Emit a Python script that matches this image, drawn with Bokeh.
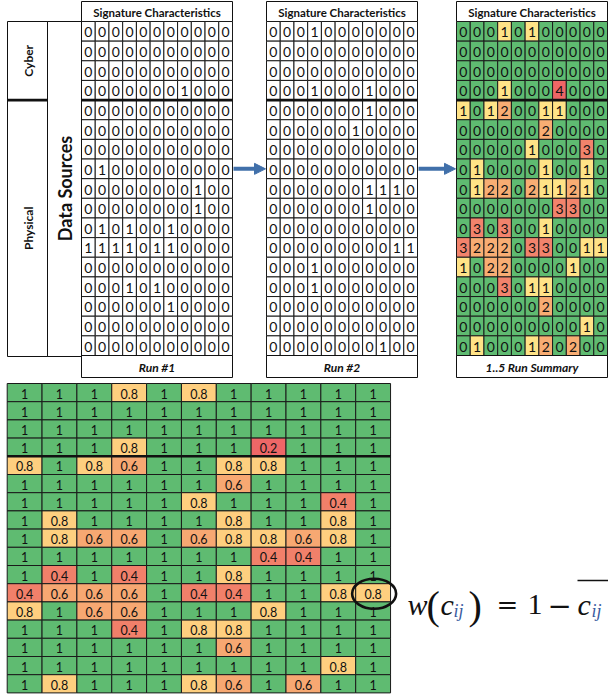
import numpy as np
from bokeh.plotting import figure
from bokeh.models import Range1d, Arrow, NormalHead, ColumnDataSource
from bokeh.core.properties import value
from bokeh.embed import file_html
from bokeh.resources import INLINE

# ---------------------------------------------------------------- data
signature_header = "Signature Characteristics"
run_labels = ["Run #1", "Run #2", "1..5 Run Summary"]
group_labels = ["Cyber", "Physical"]
source_title = "Data Sources"
n_cyber_rows = 4

# detections per data source (rows) and signature characteristic (columns)
run1 = [
    [0, 0, 0, 0, 0, 0, 0, 0, 0, 0, 0],
    [0, 0, 0, 0, 0, 0, 0, 0, 0, 0, 0],
    [0, 0, 0, 0, 0, 0, 0, 0, 0, 0, 0],
    [0, 0, 0, 0, 0, 0, 0, 1, 0, 0, 0],
    [0, 0, 0, 0, 0, 0, 0, 0, 0, 0, 0],
    [0, 0, 0, 0, 0, 0, 0, 0, 0, 0, 0],
    [0, 0, 0, 0, 0, 0, 0, 0, 0, 0, 0],
    [0, 1, 0, 0, 0, 0, 0, 0, 0, 0, 0],
    [0, 0, 0, 0, 0, 0, 0, 0, 1, 0, 0],
    [0, 0, 0, 0, 0, 0, 0, 0, 1, 0, 0],
    [0, 1, 0, 1, 0, 0, 1, 0, 0, 0, 0],
    [1, 1, 1, 1, 0, 1, 1, 0, 0, 0, 0],
    [0, 0, 0, 0, 0, 0, 0, 0, 0, 0, 0],
    [0, 0, 0, 1, 0, 1, 0, 0, 0, 0, 0],
    [0, 0, 0, 0, 0, 0, 1, 0, 0, 0, 0],
    [0, 0, 0, 0, 0, 0, 0, 0, 0, 0, 0],
    [0, 0, 0, 0, 0, 0, 0, 0, 0, 0, 0],
]

run2 = [
    [0, 0, 0, 1, 0, 0, 0, 0, 0, 0, 0],
    [0, 0, 0, 0, 0, 0, 0, 0, 0, 0, 0],
    [0, 0, 0, 0, 0, 0, 0, 0, 0, 0, 0],
    [0, 0, 0, 1, 0, 0, 0, 1, 0, 0, 0],
    [0, 0, 0, 0, 0, 0, 0, 1, 0, 0, 0],
    [0, 0, 0, 0, 0, 0, 1, 0, 0, 0, 0],
    [0, 0, 0, 0, 0, 0, 0, 0, 0, 0, 0],
    [0, 0, 0, 0, 0, 0, 0, 0, 0, 0, 0],
    [0, 0, 0, 0, 0, 0, 0, 1, 1, 1, 0],
    [0, 0, 0, 0, 0, 0, 0, 1, 0, 0, 0],
    [0, 0, 0, 0, 0, 0, 0, 0, 0, 0, 0],
    [0, 0, 0, 0, 0, 0, 0, 0, 0, 1, 1],
    [0, 0, 0, 1, 0, 0, 0, 0, 0, 0, 0],
    [0, 0, 0, 1, 0, 0, 0, 0, 0, 0, 0],
    [0, 0, 0, 0, 0, 0, 0, 0, 0, 0, 0],
    [0, 0, 0, 0, 0, 0, 0, 0, 0, 0, 0],
    [0, 0, 0, 0, 0, 0, 0, 0, 1, 0, 0],
]

run_summary = [
    [0, 0, 0, 1, 0, 1, 0, 0, 0, 0, 0],
    [0, 0, 0, 0, 0, 0, 0, 0, 0, 0, 0],
    [0, 0, 0, 0, 0, 0, 0, 0, 0, 0, 0],
    [0, 0, 0, 1, 0, 0, 0, 4, 0, 0, 0],
    [1, 0, 1, 2, 0, 0, 1, 1, 0, 0, 0],
    [0, 0, 0, 0, 0, 0, 2, 0, 0, 0, 0],
    [0, 0, 0, 0, 0, 1, 0, 0, 0, 3, 0],
    [0, 1, 0, 0, 0, 0, 1, 0, 0, 1, 0],
    [0, 1, 2, 2, 0, 2, 1, 1, 2, 1, 0],
    [0, 0, 0, 0, 0, 0, 0, 3, 3, 0, 0],
    [0, 3, 0, 3, 0, 0, 1, 0, 0, 0, 0],
    [3, 2, 2, 2, 0, 3, 3, 0, 0, 1, 1],
    [1, 0, 2, 2, 0, 0, 0, 0, 1, 0, 0],
    [0, 0, 0, 3, 0, 1, 1, 0, 0, 0, 0],
    [0, 0, 0, 0, 0, 0, 2, 0, 0, 0, 0],
    [0, 0, 0, 0, 0, 0, 0, 0, 0, 1, 0],
    [0, 1, 0, 0, 0, 1, 2, 0, 2, 0, 0],
]

weights = [
    [1, 1, 1, 0.8, 1, 0.8, 1, 1, 1, 1, 1],
    [1, 1, 1, 1, 1, 1, 1, 1, 1, 1, 1],
    [1, 1, 1, 1, 1, 1, 1, 1, 1, 1, 1],
    [1, 1, 1, 0.8, 1, 1, 1, 0.2, 1, 1, 1],
    [0.8, 1, 0.8, 0.6, 1, 1, 0.8, 0.8, 1, 1, 1],
    [1, 1, 1, 1, 1, 1, 0.6, 1, 1, 1, 1],
    [1, 1, 1, 1, 1, 0.8, 1, 1, 1, 0.4, 1],
    [1, 0.8, 1, 1, 1, 1, 0.8, 1, 1, 0.8, 1],
    [1, 0.8, 0.6, 0.6, 1, 0.6, 0.8, 0.8, 0.6, 0.8, 1],
    [1, 1, 1, 1, 1, 1, 1, 0.4, 0.4, 1, 1],
    [1, 0.4, 1, 0.4, 1, 1, 0.8, 1, 1, 1, 1],
    [0.4, 0.6, 0.6, 0.6, 1, 0.4, 0.4, 1, 1, 0.8, 0.8],
    [0.8, 1, 0.6, 0.6, 1, 1, 1, 0.8, 1, 1, 1],
    [1, 1, 1, 0.4, 1, 0.8, 0.8, 1, 1, 1, 1],
    [1, 1, 1, 1, 1, 1, 0.6, 1, 1, 1, 1],
    [1, 1, 1, 1, 1, 1, 1, 1, 1, 0.8, 1],
    [1, 0.8, 1, 1, 1, 0.8, 0.6, 1, 0.6, 1, 1],
]
highlight_cell = (11, 10)  # (row, column) of the circled weight

# ---------------------------------------------------------------- styling
W, H = 608, 698
FONT = value("Lato")
SERIF = "Liberation Serif"
SYMBOL = "DejaVu Serif"
INK = "#111111"
SUB_BLUE = "#3A5BA0"
GREEN = "#5FBB71"
count_colors = {0: GREEN, 1: "#FFE387", 2: "#F8AD73", 3: "#F2836C", 4: "#EE6666"}
weight_colors = {1: GREEN, 0.8: "#FECF7F", 0.6: "#F7A872", 0.4: "#F1806A", 0.2: "#EE6767"}
ARROW_BLUE = "#4170AA"


def Y(py):
    """Convert a top-down position to the figure's bottom-up y."""
    return H - py


p = figure(width=W, height=H, output_backend="svg", toolbar_location=None,
           x_range=Range1d(0, W), y_range=Range1d(0, H),
           min_border=0, outline_line_color=None)
p.axis.visible = False
p.grid.visible = False
p.background_fill_color = "white"


def frame(left, right, top, bottom, lw=1.0):
    p.quad(left=[left], right=[right], top=[Y(top)], bottom=[Y(bottom)],
           fill_color=None, line_color=INK, line_width=lw)


def hline(x0, x1, py, lw=2.6):
    p.segment(x0=[x0], y0=[Y(py)], x1=[x1], y1=[Y(py)], line_color=INK, line_width=lw)


def draw_grid(values, x0, y0, cw, rh, colors, font_size, fmt=str):
    rows, cols = len(values), len(values[0])
    xs, ys, fills, labels = [], [], [], []
    for r in range(rows):
        for c in range(cols):
            v = values[r][c]
            xs.append(x0 + (c + 0.5) * cw)
            ys.append(Y(y0 + (r + 0.5) * rh))
            fills.append(colors(v))
            labels.append(fmt(v))
    src = ColumnDataSource(dict(x=xs, y=ys, fill=fills, label=labels))
    p.rect(x="x", y="y", width=cw, height=rh, source=src, fill_color="fill",
           line_color="#1a1a1a", line_width=1)
    p.text(x="x", y="y", text="label", source=src, text_font=FONT,
           text_font_size=font_size, text_align="center", text_baseline="middle",
           text_color=INK, y_offset=1)
    hline(x0, x0 + cols * cw, y0 + n_cyber_rows * rh)


# ---------------------------------------------------------------- top panels
TOP_Y0, TOP_RH = 21.0, (355.0 - 21.0) / 17
PANEL_W = 151.0
CW = PANEL_W / 11
panel_x = [81.0, 266.0, 456.0]
panel_values = [run1, run2, run_summary]
panel_colors = [lambda v: "white", lambda v: "white", lambda v: count_colors[v]]

for x0, vals, col, lab in zip(panel_x, panel_values, panel_colors, run_labels):
    # header
    frame(x0, x0 + PANEL_W, 1, TOP_Y0)
    p.text(x=[x0 + PANEL_W / 2], y=[Y(11.5)], text=[signature_header], text_font=FONT,
           text_font_size="11.5px", text_font_style="bold", text_align="center",
           text_baseline="middle", text_color=INK)
    draw_grid(vals, x0, TOP_Y0, CW, TOP_RH, col, "14px")
    # caption box
    frame(x0, x0 + PANEL_W, TOP_Y0 + 17 * TOP_RH, 377)
    p.text(x=[x0 + PANEL_W / 2], y=[Y(367)], text=[lab], text_font=FONT,
           text_font_size="12px", text_font_style="bold italic", text_align="center",
           text_baseline="middle", text_color=INK)

# row-group labels to the left of the first run
split_y = TOP_Y0 + n_cyber_rows * TOP_RH
frame(7, 47, TOP_Y0, 356)
frame(47, 81, TOP_Y0, 356)
hline(7, 47, split_y)
p.text(x=[28, 28], y=[Y((TOP_Y0 + split_y) / 2), Y((split_y + 356) / 2)], text=group_labels,
       angle=np.pi / 2, text_font=FONT, text_font_size="12px", text_font_style="bold",
       text_align="center", text_baseline="middle", text_color=INK)
p.text(x=[64], y=[Y(188)], text=[source_title], angle=np.pi / 2, text_font=FONT,
       text_font_size="18px", text_font_style="bold", text_align="center",
       text_baseline="middle", text_color=INK)

# arrows between panels
arrow_y = Y(TOP_Y0 + 7.5 * TOP_RH)
for xs, xe in [(233, 265), (418, 455)]:
    p.add_layout(Arrow(x_start=xs, y_start=arrow_y, x_end=xe, y_end=arrow_y,
                       line_color=ARROW_BLUE, line_width=4,
                       end=NormalHead(size=11, fill_color=ARROW_BLUE, line_color=ARROW_BLUE)))

# ---------------------------------------------------------------- weight grid
BX0, BCW = 6.7, 34.85
BY0, BRH = 383.0, 18.2
draw_grid(weights, BX0, BY0, BCW, BRH, lambda v: weight_colors[v], "12.5px",
          fmt=lambda v: f"{v:g}")

hr, hc = highlight_cell
p.ellipse(x=[BX0 + (hc + 0.5) * BCW + 1], y=[Y(BY0 + (hr + 0.5) * BRH + 1)],
          width=44, height=30, fill_color=None, line_color=INK, line_width=2.6)

# ---------------------------------------------------------------- formula w(c_ij) = 1 - mean(c_ij)
base = 604
pieces = [
    ("w", 407, base, "30px", "italic", INK, SERIF),
    ("(", 426, base + 1, "40px", "normal", INK, SERIF),
    ("c", 440, base, "30px", "italic", INK, SERIF),
    ("ij", 453, base + 6, "18px", "italic", SUB_BLUE, SERIF),
    (")", 468, base + 1, "40px", "normal", INK, SERIF),
    ("=", 496, base, "26px", "normal", INK, SYMBOL),
    ("1", 527, base, "30px", "normal", INK, SERIF),
    ("\u2212", 547, base, "29px", "normal", INK, SYMBOL),
    ("c", 577, base, "30px", "italic", INK, SERIF),
    ("ij", 591, base + 6, "18px", "italic", SUB_BLUE, SERIF),
]
for ch, lx, by, size, style, color, fam in pieces:
    p.text(x=[lx], y=[Y(by)], text=[ch], text_font=value(fam), text_font_size=size,
           text_font_style=style, text_align="left", text_baseline="alphabetic",
           text_color=color)
p.segment(x0=[577], y0=[Y(580)], x1=[608], y1=[Y(580)], line_color=INK, line_width=1.5)

open("out.html", "w").write(file_html(p, INLINE))
